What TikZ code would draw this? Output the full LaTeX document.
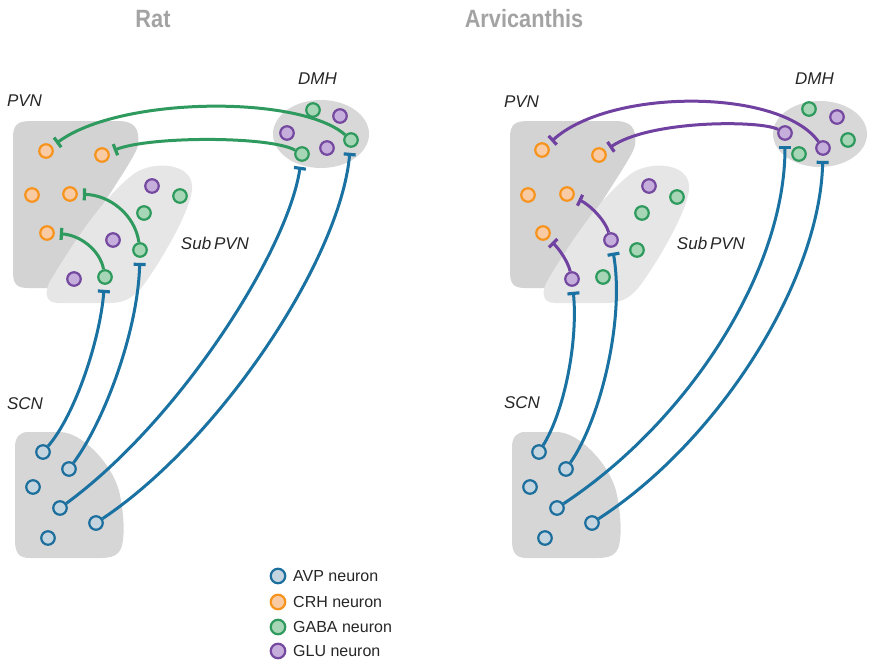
\documentclass[tikz,border=0pt]{standalone}
\usepackage{fontspec}
\setmainfont{Liberation Sans}
\newfontfamily\titlefont{Liberation Sans}[FakeStretch=0.87]
\usetikzlibrary{arrows.meta}
\definecolor{avpS}{HTML}{1C6E9C}
\definecolor{avpF}{HTML}{C5D5E0}
\definecolor{crhS}{HTML}{F7941E}
\definecolor{crhF}{HTML}{F9CBA5}
\definecolor{gabaS}{HTML}{2E9A5E}
\definecolor{gabaF}{HTML}{A7D6B7}
\definecolor{gluS}{HTML}{7549A0}
\definecolor{gluF}{HTML}{C6AEDC}
\definecolor{blueL}{HTML}{1A72A2}
\definecolor{greenL}{HTML}{2E9A5E}
\definecolor{purpL}{HTML}{7041A0}
\definecolor{pvnc}{HTML}{D3D3D3}
\definecolor{subc}{HTML}{E6E6E6}
\definecolor{dmhc}{HTML}{D8D8D8}
\definecolor{scnc}{HTML}{D6D6D6}
\definecolor{titlec}{HTML}{A3A3A3}
\begin{document}
\begin{tikzpicture}[x=1pt,y=-1pt,
  neuron/.style={circle,minimum size=13.5pt,inner sep=0pt,line width=2.2pt},
  avp/.style={neuron,draw=avpS,fill=avpF},
  crh/.style={neuron,draw=crhS,fill=crhF},
  gaba/.style={neuron,draw=gabaS,fill=gabaF},
  glu/.style={neuron,draw=gluS,fill=gluF},
  legneuron/.style={neuron,minimum size=14.5pt},
  reglab/.style={font=\itshape\fontsize{17}{20}\selectfont,inner sep=0pt,text=black!85},
  ttl/.style={font=\titlefont\bfseries\fontsize{25}{30}\selectfont,inner sep=0pt,text=titlec},
  legtext/.style={font=\fontsize{16}{19}\selectfont,inner sep=0pt,anchor=west,text=black!85},
  conn/.style={line width=3pt,shorten >=5pt,-{Bar[width=12pt,line width=3.2pt]}},
  bconn/.style={conn,draw=blueL},
  gconn/.style={conn,draw=greenL},
  pconn/.style={conn,draw=purpL}]
\useasboundingbox (0,0) rectangle (870,665);

% regions
\foreach \dx in {0,497}{
\begin{scope}[xshift=\dx pt]
\fill[pvnc] (13,138) .. controls (13,124) and (18,121) .. (32,121) -- (118,121) .. controls (134,121) and (140,128) .. (138,145) .. controls (136,160) and (80,230) .. (60,288) -- (28,288) .. controls (16,288) and (13,283) .. (13,272) -- cycle;
\fill[subc] (58,303) .. controls (44,303) and (44,290) .. (52,278) .. controls (75,240) and (105,195) .. (135,173) .. controls (155,160) and (195,163) .. (192,190) .. controls (190,210) and (165,255) .. (145,283) .. controls (135,297) and (125,303) .. (110,303) -- cycle;
\fill[scnc] (28,432) -- (60,432) .. controls (82,432) and (114,465) .. (120,495) .. controls (125,520) and (125,545) .. (119,552) .. controls (115,557) and (108,558) .. (100,558) -- (30,558) .. controls (18,558) and (15,552) .. (15,540) -- (15,447) .. controls (15,437) and (20,432) .. (28,432) -- cycle;
\end{scope}}
\fill[dmhc] (321,134) ellipse [x radius=48, y radius=34];
\fill[dmhc] (820,134) ellipse [x radius=47, y radius=33];

% titles and labels
\node[ttl] (t1) at (153,19) {Rat};
\node[ttl] (t2) at (524,19) {Arvicanthis};
\node[reglab] (l1) at (24.5,101) {PVN};
\node[reglab] (l2) at (317.5,78.5) {DMH};
\node[reglab] (l3) at (215,243) {Sub\,PVN};
\node[reglab] (l4) at (25,404) {SCN};
\node[reglab] (r1) at (521.5,102) {PVN};
\node[reglab] (r2) at (814.5,79) {DMH};
\node[reglab] (r3) at (711,243) {Sub\,PVN};
\node[reglab] (r4) at (522,403) {SCN};

% ---------- Rat neurons
\node[crh] (c1) at (46,151) {};
\node[crh] (c2) at (102,155) {};
\node[crh] (c3) at (32,195) {};
\node[crh] (c4) at (70,194) {};
\node[crh] (c5) at (47,233) {};
\node[gaba] (ga1) at (313,110) {};
\node[glu] (gl1) at (340,116) {};
\node[glu] (gl2) at (287,133) {};
\node[gaba] (ga2) at (351,140) {};
\node[glu] (gl3) at (327,148) {};
\node[gaba] (ga3) at (302,154) {};
\node[glu] (gl4) at (152,186) {};
\node[gaba] (ga4) at (180,196) {};
\node[gaba] (ga5) at (144,213) {};
\node[glu] (gl5) at (113,240) {};
\node[gaba] (ga6) at (140,250) {};
\node[glu] (gl6) at (74,279) {};
\node[gaba] (ga7) at (105,277) {};
\node[avp] (a1) at (43,452) {};
\node[avp] (a2) at (69,469) {};
\node[avp] (a3) at (33,487) {};
\node[avp] (a4) at (60,508) {};
\node[avp] (a5) at (96,523) {};
\node[avp] (a6) at (48,538) {};

\draw[gconn] (ga2) .. controls (300,95) and (120,96) .. (c1);
\draw[gconn] (ga3) .. controls (270,136) and (150,136) .. (c2);
\draw[gconn] (ga6) .. controls (135,215) and (110,195) .. (c4);
\draw[gconn] (ga7) .. controls (100,250) and (80,235) .. (c5);
\draw[bconn] (a1) .. controls (75,415) and (100,340) .. (ga7);
\draw[bconn] (a2) .. controls (105,420) and (138,330) .. (ga6);
\draw[bconn] (a4) .. controls (180,420) and (288,250) .. (ga3);
\draw[bconn] (a5) .. controls (220,440) and (340,260) .. (ga2);

% ---------- Arvicanthis neurons
\node[crh] (rc1) at (542,150) {};
\node[crh] (rc2) at (599,155) {};
\node[crh] (rc3) at (528,195) {};
\node[crh] (rc4) at (567,194) {};
\node[crh] (rc5) at (543,233) {};
\node[gaba] (rga1) at (809,109) {};
\node[glu] (rgl1) at (837,117) {};
\node[glu] (rgl2) at (785,133) {};
\node[gaba] (rga2) at (848,140) {};
\node[glu] (rgl3) at (823,148) {};
\node[gaba] (rga3) at (799,154) {};
\node[glu] (rgl4) at (649,186) {};
\node[gaba] (rga4) at (677,197) {};
\node[gaba] (rga5) at (642,213) {};
\node[glu] (rgl5) at (611,240) {};
\node[gaba] (rga6) at (637,250) {};
\node[glu] (rgl6) at (572,279) {};
\node[gaba] (rga7) at (603,277) {};
\node[avp] (ra1) at (539,452) {};
\node[avp] (ra2) at (566,469) {};
\node[avp] (ra3) at (530,487) {};
\node[avp] (ra4) at (557,508) {};
\node[avp] (ra5) at (592,523) {};
\node[avp] (ra6) at (545,538) {};

\draw[pconn] (rgl3) .. controls (780,88) and (610,88) .. (rc1);
\draw[pconn] (rgl2) .. controls (760,120) and (650,120) .. (rc2);
\draw[pconn] (rgl5) .. controls (605,220) and (590,205) .. (rc4);
\draw[pconn] (rgl6) .. controls (568,262) and (560,250) .. (rc5);
\draw[bconn] (ra1) .. controls (565,410) and (578,340) .. (rgl6);
\draw[bconn] (ra2) .. controls (600,420) and (625,320) .. (rgl5);
\draw[bconn] (ra4) .. controls (690,420) and (785,270) .. (rgl2);
\draw[bconn] (ra5) .. controls (720,440) and (820,280) .. (rgl3);

% ---------- legend
\node[legneuron,draw=avpS,fill=avpF] (k1) at (278,576) {};
\node[legneuron,draw=crhS,fill=crhF] (k2) at (278,602) {};
\node[legneuron,draw=gabaS,fill=gabaF] (k3) at (278,627) {};
\node[legneuron,draw=gluS,fill=gluF] (k4) at (278,651) {};
\node[legtext] (kt1) at (293,576) {AVP neuron};
\node[legtext] (kt2) at (293,602) {CRH neuron};
\node[legtext] (kt3) at (293,627) {GABA neuron};
\node[legtext] (kt4) at (293,651) {GLU neuron};
\end{tikzpicture}
\end{document}
